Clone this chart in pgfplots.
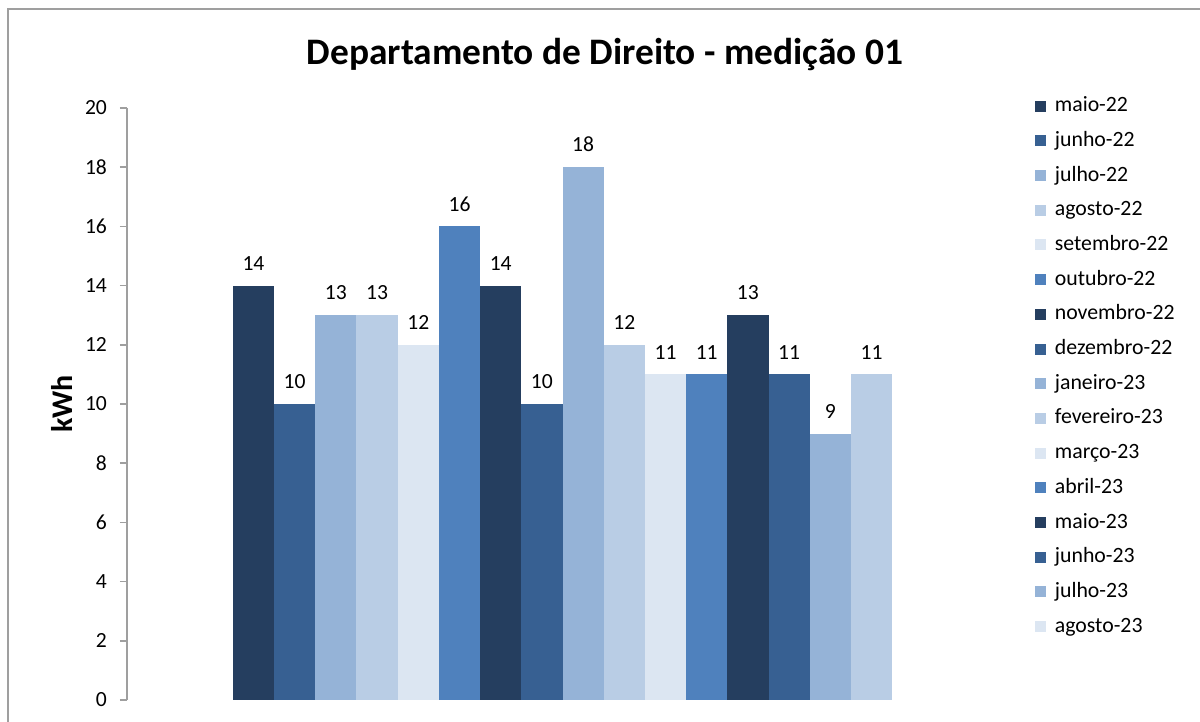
\documentclass[border=0pt]{standalone}
\usepackage{fontspec}
\setmainfont{Carlito}
\usepackage{pgfplots}
\pgfplotsset{compat=1.18}
\definecolor{cA}{HTML}{253E5F}
\definecolor{cB}{HTML}{376092}
\definecolor{cC}{HTML}{95B3D7}
\definecolor{cD}{HTML}{B9CDE5}
\definecolor{cE}{HTML}{DCE6F2}
\definecolor{cF}{HTML}{4F81BD}
\begin{document}
\begin{tikzpicture}
\useasboundingbox (0pt,0pt) rectangle (600pt,361pt);
\draw[gray!75, line width=0.8pt] (4pt,-1pt) -- (4pt,356.5pt) -- (601pt,356.5pt);
\node[font=\bfseries\fontsize{18.7}{22}\selectfont] at (302.5pt,333.5pt) {Departamento de Direito - medição 01};
\node[font=\bfseries\fontsize{15}{18}\selectfont, rotate=90] at (31pt,159pt) {kWh};
\begin{axis}[
  at={(63.5pt,11pt)}, anchor=south west,
  width=435.5pt, height=296pt, scale only axis,
  xmin=-3.07, xmax=18.07, ymin=0, ymax=20,
  ytick={0,2,...,20},
  axis x line=none, axis y line=left,
  y axis line style={-, draw=gray!75, line width=0.8pt},
  ytick style={draw=gray!75, line width=0.8pt},
  ytick align=outside, major tick length=3.5pt,
  /pgf/number format/assume math mode=true,
  yticklabel style={font=\fontsize{10.8}{12}\selectfont, xshift=-3pt},
  every axis plot/.append style={ybar, bar width=1, bar shift=0pt, draw=none},
  nodes near coords,
  nodes near coords style={font=\fontsize{10.8}{12}\selectfont, text=black, yshift=4pt},
  legend image code/.code={\fill[#1] (0pt,-2.75pt) rectangle (5.5pt,2.75pt);},
  legend cell align=left,
  legend style={draw=none, fill=none, at={(axis description cs:1.035,1.03)}, anchor=north west,
    font=\fontsize{10.9}{12}\selectfont, row sep=5.85pt,
    nodes={text depth=2pt, text height=7.5pt, inner sep=1pt},
    /tikz/every odd column/.append style={column sep=3.5pt}},
]
\addplot[fill=cA] coordinates {(0,14)}; \addlegendentry{maio-22}
\addplot[fill=cB] coordinates {(1,10)}; \addlegendentry{junho-22}
\addplot[fill=cC] coordinates {(2,13)}; \addlegendentry{julho-22}
\addplot[fill=cD] coordinates {(3,13)}; \addlegendentry{agosto-22}
\addplot[fill=cE] coordinates {(4,12)}; \addlegendentry{setembro-22}
\addplot[fill=cF] coordinates {(5,16)}; \addlegendentry{outubro-22}
\addplot[fill=cA] coordinates {(6,14)}; \addlegendentry{novembro-22}
\addplot[fill=cB] coordinates {(7,10)}; \addlegendentry{dezembro-22}
\addplot[fill=cC] coordinates {(8,18)}; \addlegendentry{janeiro-23}
\addplot[fill=cD] coordinates {(9,12)}; \addlegendentry{fevereiro-23}
\addplot[fill=cE] coordinates {(10,11)}; \addlegendentry{março-23}
\addplot[fill=cF] coordinates {(11,11)}; \addlegendentry{abril-23}
\addplot[fill=cA] coordinates {(12,13)}; \addlegendentry{maio-23}
\addplot[fill=cB] coordinates {(13,11)}; \addlegendentry{junho-23}
\addplot[fill=cC] coordinates {(14,9)}; \addlegendentry{julho-23}
\addplot[fill=cD, forget plot] coordinates {(15,11)};
\addlegendimage{fill=cE}\addlegendentry{agosto-23}
\end{axis}
\end{tikzpicture}
\end{document}
